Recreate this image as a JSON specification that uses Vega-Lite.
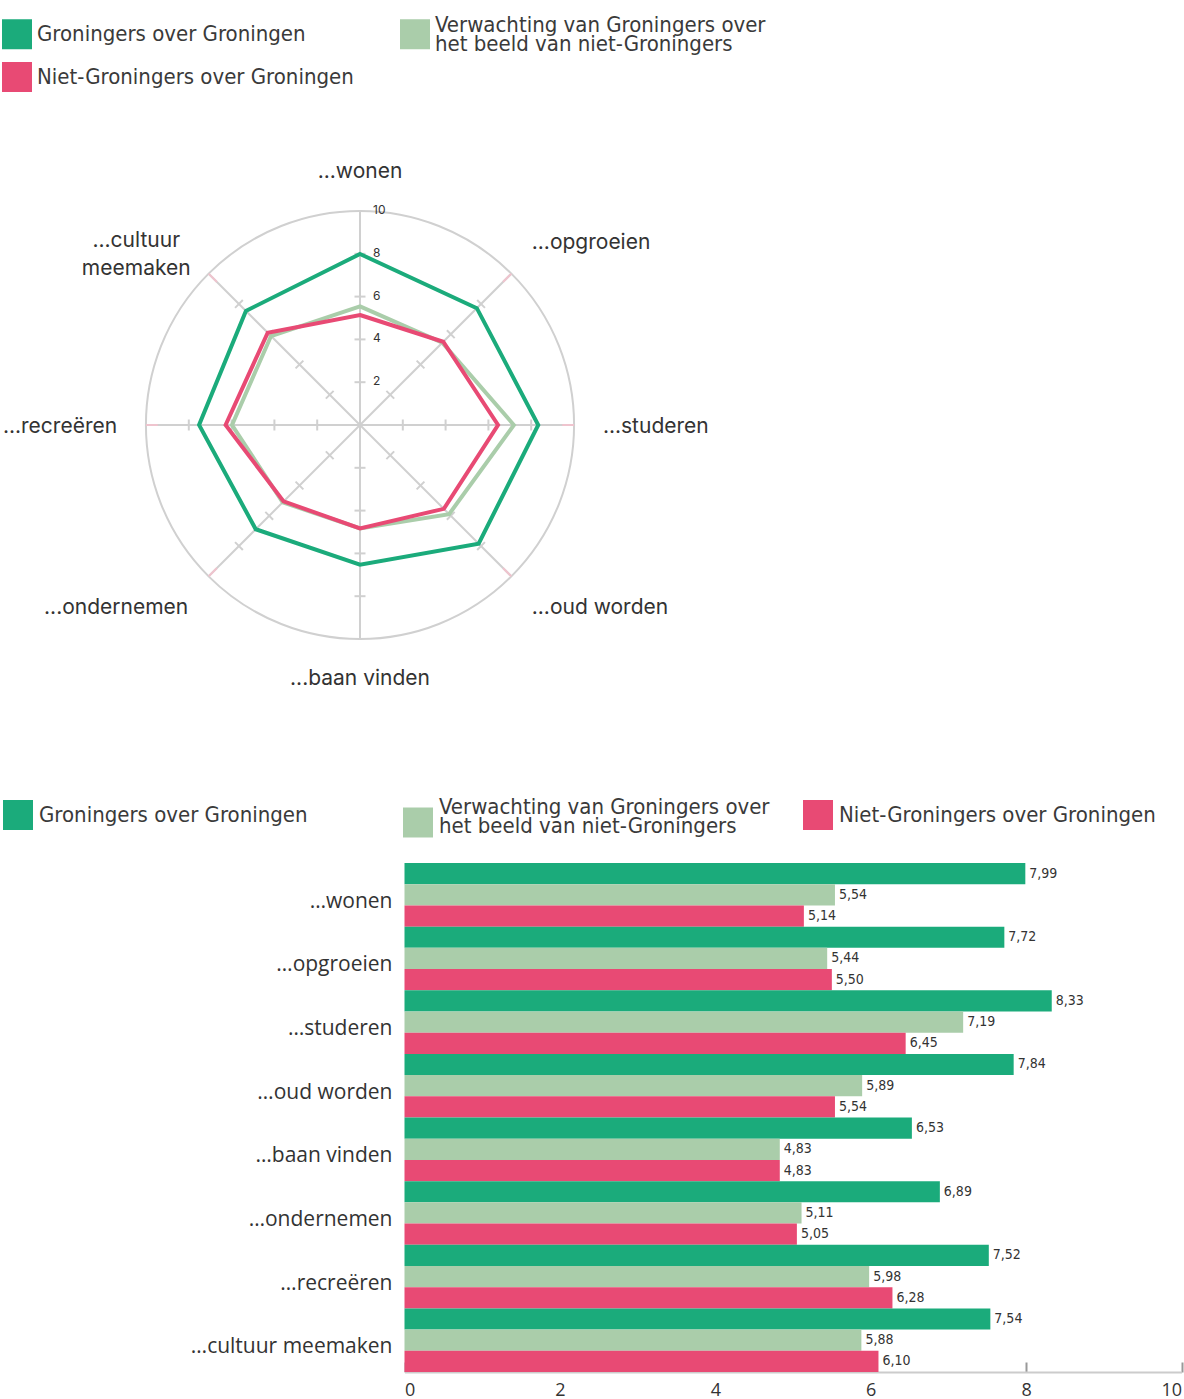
{
  "$schema": "https://vega.github.io/schema/vega-lite/v6.json",
  "width": 1184,
  "height": 1399,
  "padding": 0,
  "autosize": {"type": "none"},
  "background": "#ffffff",
  "config": {"view": {"stroke": null}, "font": "Open Sans", "style": {"guide-label": {"lineHeight": 19}}},
  "datasets": {
    "scores": [
      {"cat": "…wonen", "series": "Groningers over Groningen", "value": 7.99},
      {"cat": "…wonen", "series": "Verwachting van Groningers over het beeld van niet-Groningers", "value": 5.54},
      {"cat": "…wonen", "series": "Niet-Groningers over Groningen", "value": 5.14},
      {"cat": "…opgroeien", "series": "Groningers over Groningen", "value": 7.72},
      {"cat": "…opgroeien", "series": "Verwachting van Groningers over het beeld van niet-Groningers", "value": 5.44},
      {"cat": "…opgroeien", "series": "Niet-Groningers over Groningen", "value": 5.50},
      {"cat": "…studeren", "series": "Groningers over Groningen", "value": 8.33},
      {"cat": "…studeren", "series": "Verwachting van Groningers over het beeld van niet-Groningers", "value": 7.19},
      {"cat": "…studeren", "series": "Niet-Groningers over Groningen", "value": 6.45},
      {"cat": "…oud worden", "series": "Groningers over Groningen", "value": 7.84},
      {"cat": "…oud worden", "series": "Verwachting van Groningers over het beeld van niet-Groningers", "value": 5.89},
      {"cat": "…oud worden", "series": "Niet-Groningers over Groningen", "value": 5.54},
      {"cat": "…baan vinden", "series": "Groningers over Groningen", "value": 6.53},
      {"cat": "…baan vinden", "series": "Verwachting van Groningers over het beeld van niet-Groningers", "value": 4.83},
      {"cat": "…baan vinden", "series": "Niet-Groningers over Groningen", "value": 4.83},
      {"cat": "…ondernemen", "series": "Groningers over Groningen", "value": 6.89},
      {"cat": "…ondernemen", "series": "Verwachting van Groningers over het beeld van niet-Groningers", "value": 5.11},
      {"cat": "…ondernemen", "series": "Niet-Groningers over Groningen", "value": 5.05},
      {"cat": "…recreëren", "series": "Groningers over Groningen", "value": 7.52},
      {"cat": "…recreëren", "series": "Verwachting van Groningers over het beeld van niet-Groningers", "value": 5.98},
      {"cat": "…recreëren", "series": "Niet-Groningers over Groningen", "value": 6.28},
      {"cat": "…cultuur meemaken", "series": "Groningers over Groningen", "value": 7.54},
      {"cat": "…cultuur meemaken", "series": "Verwachting van Groningers over het beeld van niet-Groningers", "value": 5.88},
      {"cat": "…cultuur meemaken", "series": "Niet-Groningers over Groningen", "value": 6.10}
    ],
    "rticks": [{"t": 2}, {"t": 4}, {"t": 6}, {"t": 8}, {"t": 10}]
  },
  "resolve": {"scale": {"x": "independent", "y": "independent"}, "axis": {"x": "independent", "y": "independent"}},
  "layer": [
    {
      "layer": [
        {
          "data": {"values": [{"r": 10, "c": 0}]},
          "mark": {"type": "arc", "theta": 0, "theta2": 6.2832, "radius": 214, "radius2": 0, "filled": false, "stroke": "#d0d0d0", "strokeWidth": 2},
          "encoding": {
            "x": {"field": "c", "type": "quantitative", "scale": {"domain": [-10, 10], "range": [146, 574], "nice": false, "zero": false}, "axis": null},
            "y": {"field": "c", "type": "quantitative", "scale": {"domain": [-10, 10], "range": [639, 211], "nice": false, "zero": false}, "axis": null}
          }
        },
        {
          "data": {"name": "scores"},
          "transform": [
            {"filter": "datum.series == 'Groningers over Groningen'"},
            {"calculate": "indexof(['…wonen','…opgroeien','…studeren','…oud worden','…baan vinden','…ondernemen','…recreëren','…cultuur meemaken'], datum.cat)", "as": "k"},
            {"calculate": "datum.k * PI / 4", "as": "ang"},
            {"calculate": "0", "as": "c"},
            {"calculate": "10 * sin(datum.ang)", "as": "ex"},
            {"calculate": "10 * cos(datum.ang)", "as": "ey"}
          ],
          "mark": {"type": "rule", "stroke": "#d0d0d0", "strokeWidth": 2},
          "encoding": {
            "x": {"field": "c", "type": "quantitative"},
            "y": {"field": "c", "type": "quantitative"},
            "x2": {"field": "ex"},
            "y2": {"field": "ey"}
          }
        },
        {
          "data": {"name": "scores"},
          "transform": [
            {"filter": "datum.series == 'Groningers over Groningen'"},
            {"calculate": "indexof(['…wonen','…opgroeien','…studeren','…oud worden','…baan vinden','…ondernemen','…recreëren','…cultuur meemaken'], datum.cat)", "as": "k"},
            {"filter": "datum.k % 4 != 0"},
            {"calculate": "datum.k * PI / 4", "as": "ang"},
            {"calculate": "9.45 * sin(datum.ang)", "as": "sx"},
            {"calculate": "9.45 * cos(datum.ang)", "as": "sy"},
            {"calculate": "10 * sin(datum.ang)", "as": "ex"},
            {"calculate": "10 * cos(datum.ang)", "as": "ey"}
          ],
          "mark": {"type": "rule", "stroke": "#efc4ce", "strokeWidth": 2},
          "encoding": {
            "x": {"field": "sx", "type": "quantitative"},
            "y": {"field": "sy", "type": "quantitative"},
            "x2": {"field": "ex"},
            "y2": {"field": "ey"}
          }
        },
        {
          "data": {"name": "scores"},
          "transform": [
            {"filter": "datum.series == 'Groningers over Groningen'"},
            {"calculate": "indexof(['…wonen','…opgroeien','…studeren','…oud worden','…baan vinden','…ondernemen','…recreëren','…cultuur meemaken'], datum.cat)", "as": "k"},
            {"calculate": "datum.k * PI / 4", "as": "ang"},
            {"calculate": "[2, 4, 6, 8]", "as": "t"},
            {"flatten": ["t"]},
            {"calculate": "datum.t * sin(datum.ang)", "as": "px"},
            {"calculate": "datum.t * cos(datum.ang)", "as": "py"},
            {"calculate": "datum.k * 45", "as": "deg"}
          ],
          "mark": {"type": "point", "shape": "stroke", "size": 121, "filled": false, "stroke": "#d0d0d0", "strokeWidth": 2, "opacity": 1},
          "encoding": {
            "x": {"field": "px", "type": "quantitative"},
            "y": {"field": "py", "type": "quantitative"},
            "angle": {"field": "deg", "type": "quantitative", "scale": null}
          }
        },
        {
          "data": {"name": "rticks"},
          "transform": [{"calculate": "0", "as": "c"}],
          "mark": {"type": "text", "align": "left", "baseline": "middle", "dx": 13, "dy": -1, "font": "Inter", "fontSize": 12, "fill": "#333333"},
          "encoding": {
            "x": {"field": "c", "type": "quantitative"},
            "y": {"field": "t", "type": "quantitative"},
            "text": {"field": "t", "type": "quantitative"}
          }
        },
        {
          "data": {"name": "scores"},
          "transform": [
            {"calculate": "indexof(['…wonen','…opgroeien','…studeren','…oud worden','…baan vinden','…ondernemen','…recreëren','…cultuur meemaken'], datum.cat)", "as": "k"},
            {"calculate": "datum.k * PI / 4", "as": "ang"},
            {"calculate": "datum.value * sin(datum.ang)", "as": "px"},
            {"calculate": "datum.value * cos(datum.ang)", "as": "py"}
          ],
          "encoding": {
            "x": {"field": "px", "type": "quantitative"},
            "y": {"field": "py", "type": "quantitative"},
            "order": {"field": "k", "type": "quantitative"},
            "stroke": {
              "field": "series", "type": "nominal",
              "scale": {"domain": ["Groningers over Groningen", "Verwachting van Groningers over het beeld van niet-Groningers", "Niet-Groningers over Groningen"], "range": ["#1bab7b", "#aacdaa", "#e84a74"]},
              "legend": {
                "orient": "none", "legendX": 2, "legendY": 19, "columns": 2, "direction": "horizontal", "gridAlign": "all", "title": null,
                "values": ["Groningers over Groningen", "Verwachting van Groningers over het beeld van niet-Groningers"],
                "symbolType": "square", "symbolSize": 225, "symbolStrokeWidth": 15,
                "labelFont": "DejaVu Sans Condensed, Roboto, sans-serif", "labelFontSize": 22, "labelColor": "#3a3a3a", "labelOffset": 5, "labelLimit": 600,
                "columnPadding": 9, "rowPadding": 3, "padding": 0,
                "labelExpr": "datum.label == 'Verwachting van Groningers over het beeld van niet-Groningers' ? ['Verwachting van Groningers over', 'het beeld van niet-Groningers'] : datum.label",
                "encode": {"labels": {"update": {"dy": {"signal": "datum.value == 'Verwachting van Groningers over het beeld van niet-Groningers' ? -9 : 0"}}}}
              }
            }
          },
          "layer": [
            {"transform": [{"filter": "datum.series == 'Groningers over Groningen'"}], "mark": {"type": "line", "interpolate": "linear-closed", "strokeWidth": 4}},
            {"transform": [{"filter": "datum.series == 'Verwachting van Groningers over het beeld van niet-Groningers'"}], "mark": {"type": "line", "interpolate": "linear-closed", "strokeWidth": 4}},
            {"transform": [{"filter": "datum.series == 'Niet-Groningers over Groningen'"}], "mark": {"type": "line", "interpolate": "linear-closed", "strokeWidth": 4}}
          ]
        },
        {
          "data": {"name": "scores"},
          "transform": [
            {"filter": "datum.series == 'Niet-Groningers over Groningen' && datum.cat == '…wonen'"},
            {"calculate": "0", "as": "c"}
          ],
          "mark": {"type": "point", "filled": true, "size": 0, "opacity": 1},
          "encoding": {
            "x": {"field": "c", "type": "quantitative"},
            "y": {"field": "c", "type": "quantitative"},
            "color": {
              "field": "series", "type": "nominal",
              "scale": {"domain": ["Niet-Groningers over Groningen", "Groningers over Groningen", "Verwachting van Groningers over het beeld van niet-Groningers"], "range": ["#e84a74", "#1bab7b", "#aacdaa"]},
              "legend": {
                "orient": "none", "legendX": 2, "legendY": 62, "title": null,
                "values": ["Niet-Groningers over Groningen"],
                "symbolType": "square", "symbolSize": 900, "symbolStrokeWidth": 0, "symbolOpacity": 1,
                "labelFont": "DejaVu Sans Condensed, Roboto, sans-serif", "labelFontSize": 22, "labelColor": "#3a3a3a", "labelOffset": 5, "labelLimit": 600, "padding": 0
              }
            }
          }
        },
        {
          "data": {"name": "scores"},
          "transform": [
            {"filter": "datum.series == 'Groningers over Groningen'"},
            {"calculate": "indexof(['…wonen','…opgroeien','…studeren','…oud worden','…baan vinden','…ondernemen','…recreëren','…cultuur meemaken'], datum.cat)", "as": "k"},
            {"calculate": "datum.k * PI / 4", "as": "ang"},
            {"calculate": "11.35 * sin(datum.ang)", "as": "lx"},
            {"calculate": "11.35 * cos(datum.ang)", "as": "ly"},
            {"calculate": "datum.k == 7 ? ['...cultuur', 'meemaken'] : replace(datum.cat, '…', '...')", "as": "lbl"}
          ],
          "encoding": {
            "x": {"field": "lx", "type": "quantitative"},
            "y": {"field": "ly", "type": "quantitative"},
            "text": {"field": "lbl", "type": "nominal"}
          },
          "layer": [
            {"transform": [{"filter": "datum.k == 0"}], "mark": {"type": "text", "align": "center", "baseline": "bottom", "font": "Inter", "fontSize": 21, "fill": "#333333"}},
            {"transform": [{"filter": "datum.k == 1"}], "mark": {"type": "text", "align": "left", "baseline": "bottom", "font": "Inter", "fontSize": 21, "fill": "#333333"}},
            {"transform": [{"filter": "datum.k == 2"}], "mark": {"type": "text", "align": "left", "baseline": "middle", "dy": 2, "font": "Inter", "fontSize": 21, "fill": "#333333"}},
            {"transform": [{"filter": "datum.k == 3"}], "mark": {"type": "text", "align": "left", "baseline": "top", "font": "Inter", "fontSize": 21, "fill": "#333333"}},
            {"transform": [{"filter": "datum.k == 4"}], "mark": {"type": "text", "align": "center", "baseline": "top", "font": "Inter", "fontSize": 21, "fill": "#333333"}},
            {"transform": [{"filter": "datum.k == 5"}], "mark": {"type": "text", "align": "right", "baseline": "top", "font": "Inter", "fontSize": 21, "fill": "#333333"}},
            {"transform": [{"filter": "datum.k == 6"}], "mark": {"type": "text", "align": "right", "baseline": "middle", "dy": 2, "font": "Inter", "fontSize": 21, "fill": "#333333"}},
            {"transform": [{"filter": "datum.k == 7"}], "mark": {"type": "text", "align": "center", "baseline": "middle", "dx": -52, "dy": -12, "lineHeight": 28, "font": "Inter", "fontSize": 21, "fill": "#333333"}}
          ]
        }
      ]
    },
    {
      "data": {"name": "scores"},
      "transform": [
        {"calculate": "replace(format(datum.value, '.2f'), '.', ',')", "as": "vlabel"}
      ],
      "encoding": {
        "y": {
          "field": "cat", "type": "nominal",
          "sort": ["…wonen", "…opgroeien", "…studeren", "…oud worden", "…baan vinden", "…ondernemen", "…recreëren", "…cultuur meemaken"],
          "scale": {"range": [863, 1372], "paddingInner": 0, "paddingOuter": 0},
          "axis": {"orient": "left", "offset": -404, "domain": false, "ticks": false, "labelPadding": 12, "labelOffset": 7, "labelFont": "Open Sans", "labelFontSize": 21, "labelColor": "#333333", "labelLimit": 400, "title": null, "grid": false}
        },
        "yOffset": {
          "field": "series", "type": "nominal",
          "sort": ["Groningers over Groningen", "Verwachting van Groningers over het beeld van niet-Groningers", "Niet-Groningers over Groningen"],
          "scale": {"paddingInner": 0, "paddingOuter": 0}
        },
        "x": {
          "field": "value", "type": "quantitative",
          "scale": {"domain": [0, 10], "range": [404.5, 1181.5], "nice": false, "zero": true},
          "axis": {
            "orient": "bottom", "offset": -27, "values": [0, 2, 4, 6, 8, 10], "title": null, "grid": false,
            "domainColor": "#cccccc", "domainWidth": 2, "tickColor": "#999999", "tickWidth": 2, "tickSize": -10,
            "labelPadding": 19, "labelFont": "Open Sans", "labelFontSize": 18, "labelColor": "#333333", "labelFlush": true
          }
        }
      },
      "layer": [
        {
          "mark": {"type": "bar"},
          "encoding": {
            "fill": {
              "field": "series", "type": "nominal",
              "sort": ["Groningers over Groningen", "Verwachting van Groningers over het beeld van niet-Groningers", "Niet-Groningers over Groningen"],
              "scale": {"range": ["#1bab7b", "#aacdaa", "#e84a74"]},
              "legend": {
                "orient": "none", "legendX": 3, "legendY": 800, "columns": 3, "direction": "horizontal", "gridAlign": "all", "title": null,
                "symbolType": "square", "symbolSize": 900, "symbolStrokeWidth": 0,
                "labelFont": "DejaVu Sans Condensed, Roboto, sans-serif", "labelFontSize": 22, "labelColor": "#3a3a3a", "labelOffset": 6, "labelLimit": 600,
                "columnPadding": 33, "rowPadding": 3, "padding": 0,
                "labelExpr": "datum.label == 'Verwachting van Groningers over het beeld van niet-Groningers' ? ['Verwachting van Groningers over', 'het beeld van niet-Groningers'] : [datum.label, ' ']",
                "encode": {"labels": {"update": {"dy": {"signal": "datum.value == 'Verwachting van Groningers over het beeld van niet-Groningers' ? -16 : 0"}}}}
              }
            }
          }
        },
        {
          "mark": {"type": "text", "align": "left", "baseline": "middle", "dx": 4, "font": "DejaVu Sans Condensed, Roboto, sans-serif", "fontSize": 14, "fill": "#333333"},
          "encoding": {"text": {"field": "vlabel", "type": "nominal"}}
        }
      ]
    }
  ]
}
